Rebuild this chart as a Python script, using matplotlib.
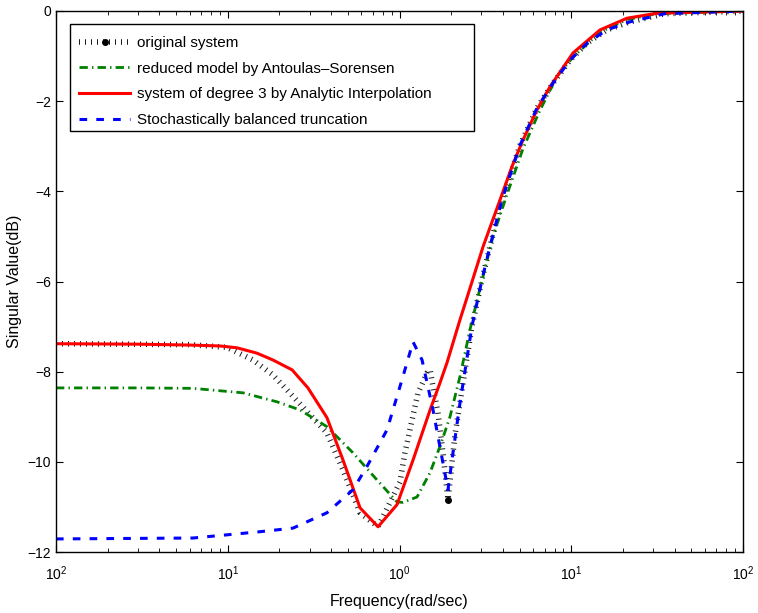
import matplotlib
matplotlib.use("Agg")
import matplotlib.pyplot as plt
from matplotlib.patches import Rectangle
import numpy as np

plt.rcParams['font.family'] = ['Liberation Sans', 'DejaVu Sans']
plt.rcParams['mathtext.fontset'] = 'custom'
plt.rcParams['mathtext.rm'] = 'Liberation Sans'
plt.rcParams['font.size'] = 10

# original system
w_orig = [0.01, 0.06, 0.099, 0.14, 0.183, 0.24, 0.378, 0.469, 0.589, 0.75,
          1.006, 1.076, 1.183, 1.282, 1.446, 1.506, 1.568, 1.675, 1.791, 1.916,
          2.105, 2.31, 2.64, 3.02, 3.36, 3.95, 5.04, 6.32, 7.83, 9.84,
          12.4, 16.1, 22.0, 35.0, 100.0]
db_orig = [-7.38, -7.40, -7.46, -7.74, -8.07, -8.55, -9.36, -10.18, -11.13, -11.44,
           -10.45, -9.8, -9.07, -8.47, -8.03, -7.96, -8.34, -8.91, -9.8, -10.84,
           -9.4, -8.4, -7.0, -5.96, -5.23, -4.19, -2.97, -2.15, -1.6, -1.09,
           -0.71, -0.42, -0.24, -0.06, 0.0]

# reduced model by Antoulas-Sorensen
w_as = [0.01, 0.03, 0.0628, 0.123, 0.194, 0.264, 0.378, 0.536, 0.739, 0.967,
        1.047, 1.265, 1.506, 1.72, 1.968, 2.249, 2.572, 2.9, 3.5, 4.2,
        5.24, 6.58, 8.26, 10.24, 14.7, 21.1, 31.6, 100.0]
db_as = [-8.36, -8.36, -8.37, -8.47, -8.67, -8.85, -9.22, -9.8, -10.4, -10.89,
         -10.9, -10.78, -10.24, -9.66, -9.0, -8.11, -7.07, -6.25, -5.0, -4.1,
         -3.05, -2.2, -1.45, -1.02, -0.47, -0.19, -0.06, 0.0]

# system of degree 3 by Analytic Interpolation
w_ai = [0.01, 0.03, 0.06, 0.09, 0.113, 0.148, 0.183, 0.237, 0.293, 0.378,
        0.469, 0.589, 0.75, 0.967, 1.199, 1.506, 1.72, 1.891, 2.249, 2.471,
        3.064, 3.848, 4.518, 5.237, 6.319, 7.52, 10.24, 14.7, 21.1, 31.6, 100.0]
db_ai = [-7.38, -7.39, -7.41, -7.43, -7.47, -7.59, -7.74, -7.96, -8.36, -9.02,
         -9.96, -11.02, -11.44, -10.95, -9.96, -8.85, -8.25, -7.8, -6.85, -6.36,
         -5.23, -4.19, -3.45, -2.86, -2.19, -1.68, -0.93, -0.42, -0.16, -0.05, 0.0]

# Stochastically balanced truncation
w_sbt = [0.01, 0.0628, 0.154, 0.24, 0.378, 0.536, 0.647, 0.846, 1.047, 1.199,
         1.353, 1.568, 1.72, 1.916, 2.048, 2.249, 2.64, 3.02, 3.36, 3.95,
         5.04, 6.32, 7.83, 9.84, 12.4, 16.1, 22.0, 35.0, 100.0]
db_sbt = [-11.71, -11.69, -11.55, -11.47, -11.13, -10.62, -10.1, -9.29, -8.11, -7.34,
          -7.74, -8.85, -9.67, -10.62, -9.8, -8.7, -7.0, -5.96, -5.23, -4.19,
          -2.97, -2.15, -1.6, -1.09, -0.71, -0.42, -0.24, -0.06, 0.0]

labels = ['original system',
          'reduced model by Antoulas\u2013Sorensen',
          'system of degree 3 by Analytic Interpolation',
          'Stochastically balanced truncation']

xticks = [0.01, 0.1, 1, 10, 100]
xtick_labels = [r'$\mathregular{10^{2}}$', r'$\mathregular{10^{1}}$', r'$\mathregular{10^{0}}$',
                r'$\mathregular{10^{1}}$', r'$\mathregular{10^{2}}$']

fig = plt.figure(figsize=(7.58, 6.13), dpi=100)
ax = fig.add_axes([56 / 758, 1 - 552 / 613, 687 / 758, 541 / 613])

notch = db_orig.index(min(db_orig[15:25]))
ax.plot(w_orig, db_orig, color='0.1', lw=4, ls=(0, (0.18, 0.9)),
        marker='.', ms=8, mfc='k', mec='k', markevery=[notch], label=labels[0])
ax.plot(w_as, db_as, color='#008000', lw=2, ls=(0, (3.0, 1.5, 0.5, 1.5)), label=labels[1])
ax.plot(w_ai, db_ai, color='#ff0000', lw=2.2, ls='-', label=labels[2])
ax.plot(w_sbt, db_sbt, color='#0000ff', lw=2.2, ls=(0, (2.5, 3.0)), label=labels[3])

ax.set_xscale('log')
ax.set_xlim(0.01, 100)
ax.set_ylim(-12, 0)
ax.set_yticks(np.arange(-12, 1, 2))
ax.set_xticks(xticks)
ax.set_xticklabels(xtick_labels)
ax.tick_params(which='both', direction='in', top=True, right=True, labelsize=10)
ax.tick_params(which='major', length=5)
ax.tick_params(which='minor', length=3)
ax.tick_params(axis='x', which='major', pad=9)
for s in ax.spines.values():
    s.set_linewidth(1.0)

ax.set_xlabel('Frequency(rad/sec)', fontsize=11.5, labelpad=8)
ax.set_ylabel('Singular Value(dB)', fontsize=11.5)

# legend box drawn separately (wider than its text, as in the original)
ax.add_patch(Rectangle((0.0204, 0.778), 0.588, 0.198, transform=ax.transAxes,
                       facecolor='white', edgecolor='k', lw=1.0, zorder=4))
leg = ax.legend(loc='upper left', bbox_to_anchor=(0.0204, 0.9705), borderaxespad=0,
                frameon=False, numpoints=1,
                handlelength=3.33, handletextpad=0.45, labelspacing=0.76,
                borderpad=0.6, fontsize=11)
leg.set_zorder(5)

fig.savefig('out.png', dpi=100)
